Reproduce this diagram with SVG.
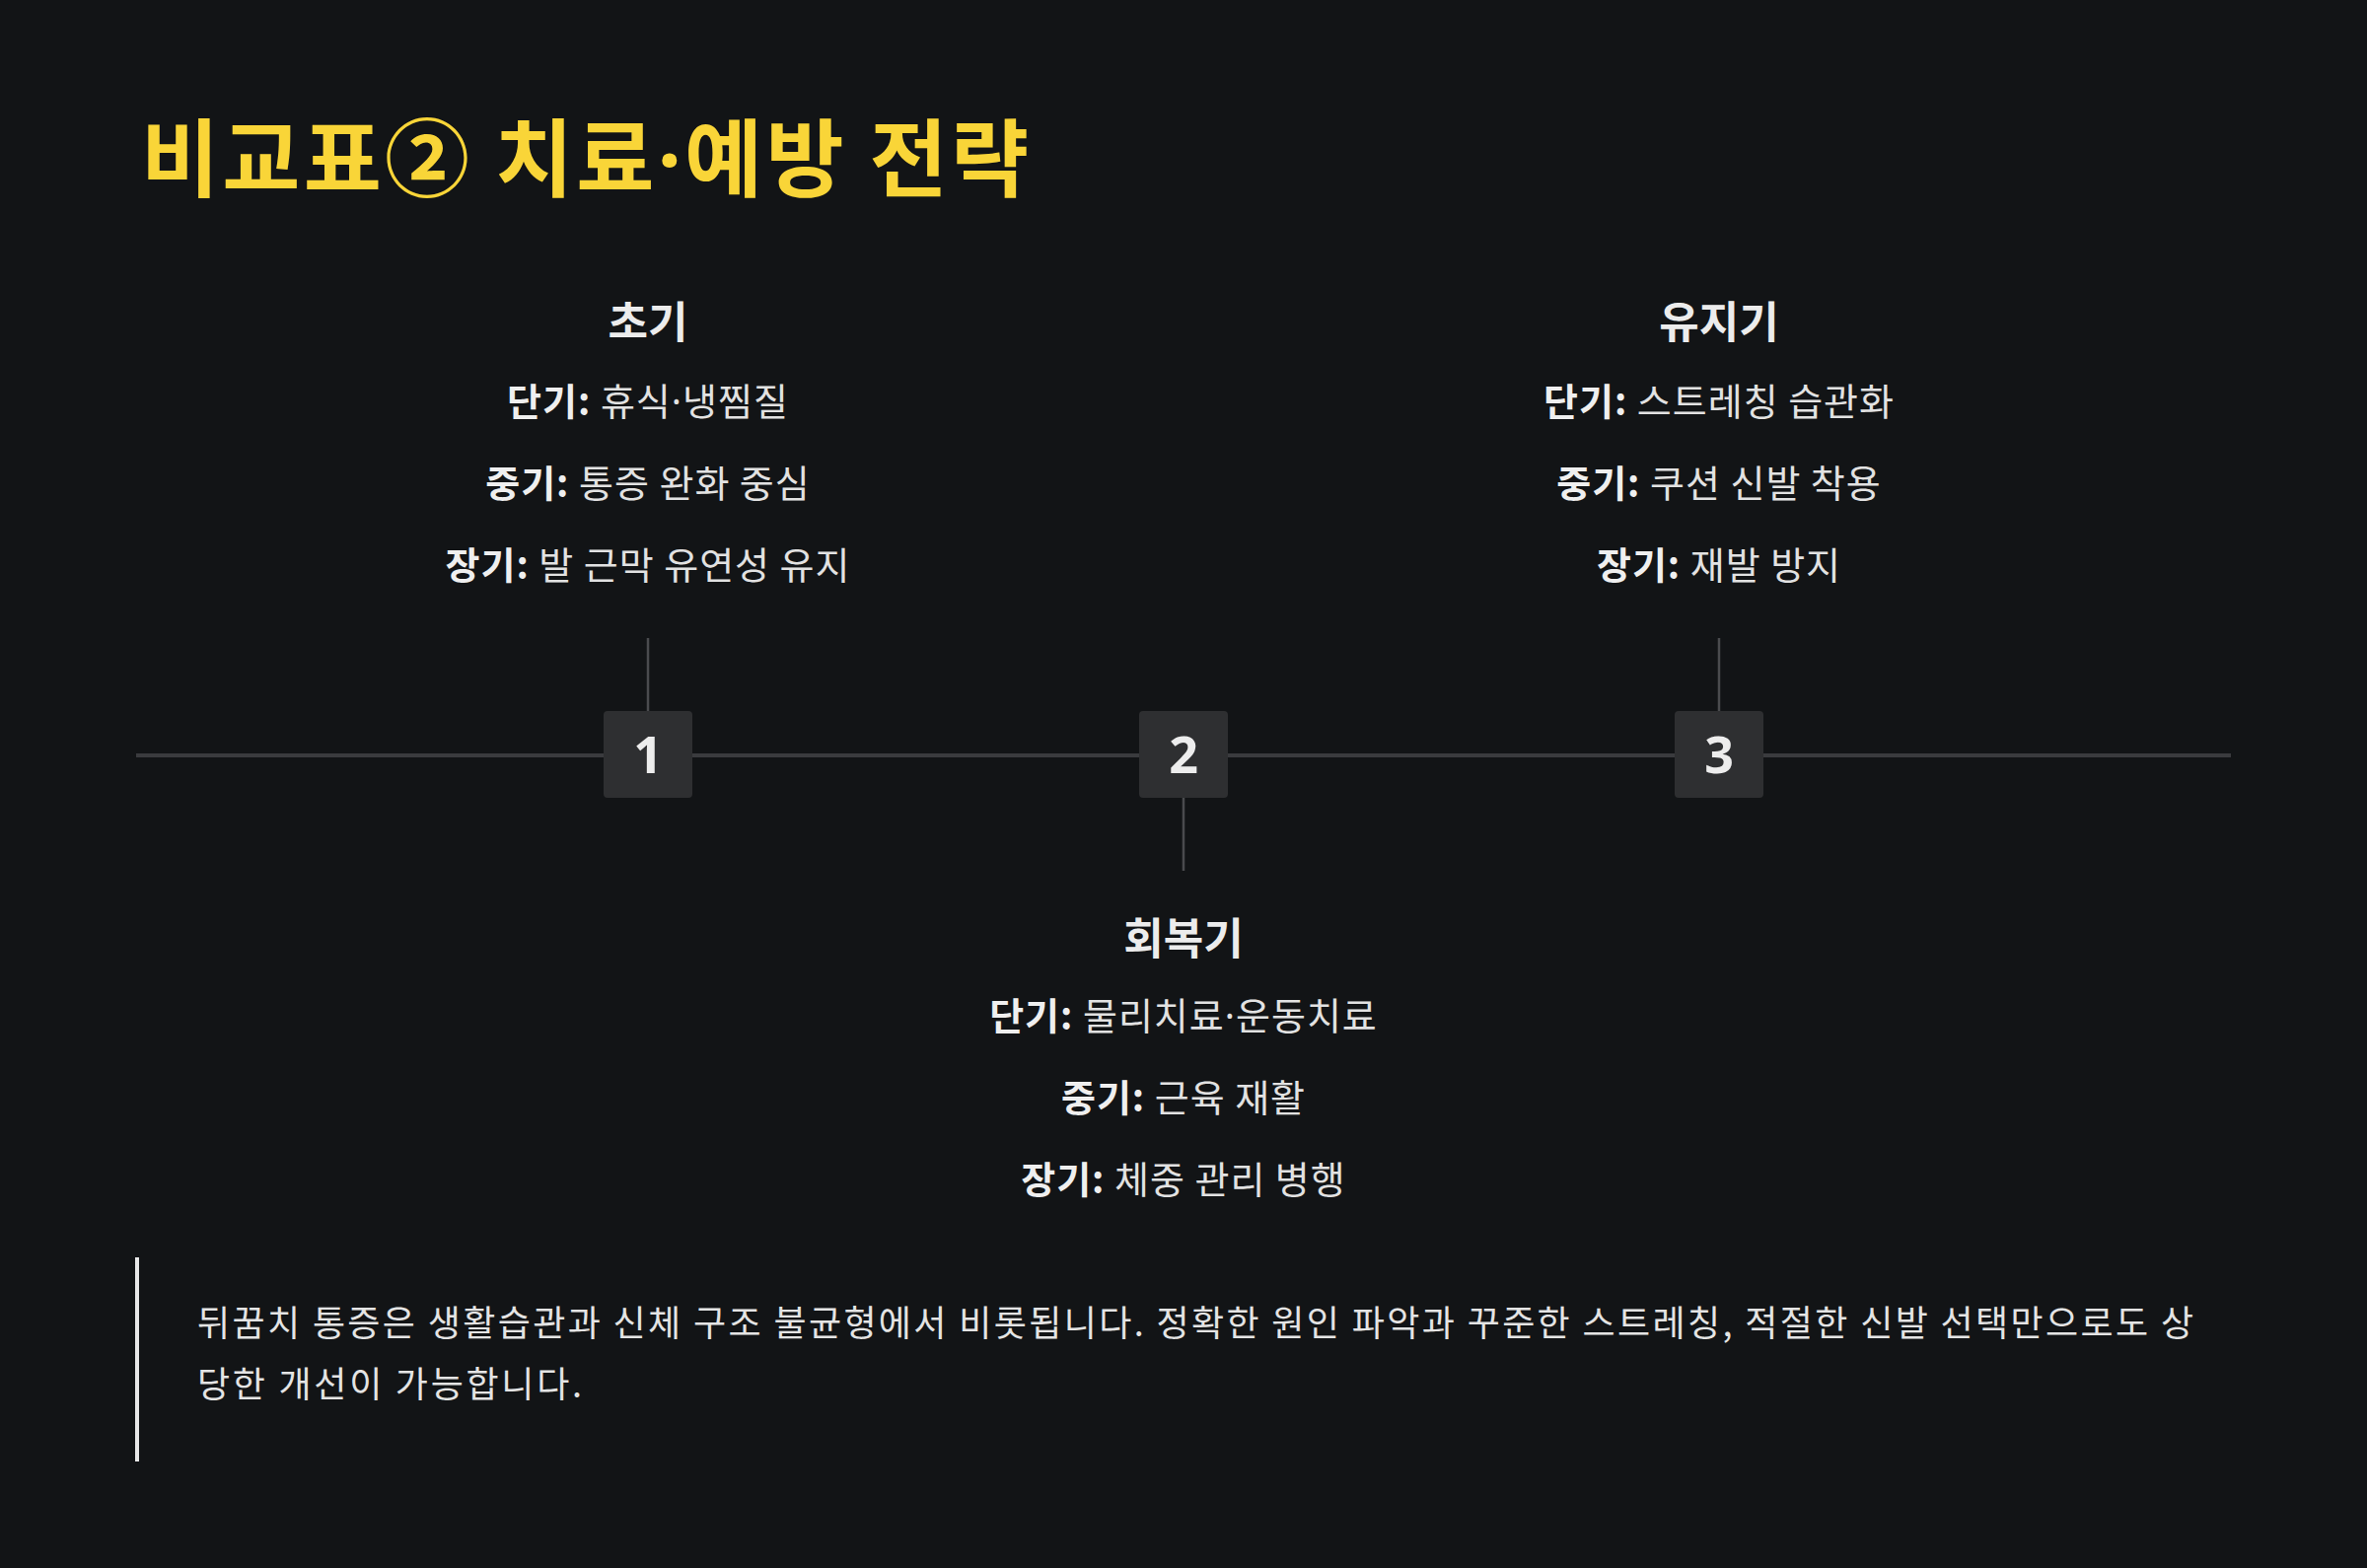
<svg xmlns="http://www.w3.org/2000/svg" width="2400" height="1590" viewBox="0 0 2400 1590">
<style>
.kr{font-family:"Noto Sans CJK KR","Noto Sans",sans-serif}
.dot{font-family:"Noto Sans","DejaVu Sans",sans-serif}
.title{font-size:86px;font-weight:700;fill:#F9D538}
.phase{font-size:44px;font-weight:700;fill:#ECECEC;text-anchor:middle}
.row{font-size:38px;fill:#E2E2E2;text-anchor:middle;letter-spacing:1px}
.row .b{font-weight:700;fill:#EFEFEF}
.num{font-family:"Noto Sans","DejaVu Sans",sans-serif;font-size:52px;font-weight:700;fill:#EDEDED;text-anchor:middle}
.box{fill:#2E2F31}
.stem{stroke:#4A4B4E;stroke-width:2.5}
.para{font-size:36px;fill:#E4E4E4}
</style>
<rect width="2400" height="1590" fill="#121416"/>
<text class="kr title" x="143" y="193" textLength="900" lengthAdjust="spacing">비교표② 치료<tspan class="dot">·</tspan>예방 전략</text>
<g id="connectors">
<line x1="138" y1="766" x2="2262" y2="766" stroke="#3A3B3E" stroke-width="4"/>
<line class="stem" x1="657" y1="647" x2="657" y2="721"/>
<line class="stem" x1="1743" y1="647" x2="1743" y2="721"/>
<line class="stem" x1="1200" y1="808" x2="1200" y2="883"/>
</g>
<g id="node1">
<rect class="box" x="612" y="721" width="90" height="88" rx="4"/>
<text class="num" x="657" y="784">1</text>
<text class="kr phase" x="657" y="343">초기</text>
<text class="kr row" x="657" y="421"><tspan class="b">단기:</tspan> 휴식<tspan class="dot">·</tspan>냉찜질</text>
<text class="kr row" x="657" y="504"><tspan class="b">중기:</tspan> 통증 완화 중심</text>
<text class="kr row" x="657" y="587"><tspan class="b">장기:</tspan> 발 근막 유연성 유지</text>
</g>
<g id="node2">
<rect class="box" x="1155" y="721" width="90" height="88" rx="4"/>
<text class="num" x="1200" y="784">2</text>
<text class="kr phase" x="1200" y="968">회복기</text>
<text class="kr row" x="1200" y="1044"><tspan class="b">단기:</tspan> 물리치료<tspan class="dot">·</tspan>운동치료</text>
<text class="kr row" x="1200" y="1127"><tspan class="b">중기:</tspan> 근육 재활</text>
<text class="kr row" x="1200" y="1210"><tspan class="b">장기:</tspan> 체중 관리 병행</text>
</g>
<g id="node3">
<rect class="box" x="1698" y="721" width="90" height="88" rx="4"/>
<text class="num" x="1743" y="784">3</text>
<text class="kr phase" x="1743" y="343">유지기</text>
<text class="kr row" x="1743" y="421"><tspan class="b">단기:</tspan> 스트레칭 습관화</text>
<text class="kr row" x="1743" y="504"><tspan class="b">중기:</tspan> 쿠션 신발 착용</text>
<text class="kr row" x="1743" y="587"><tspan class="b">장기:</tspan> 재발 방지</text>
</g>
<g id="note">
<rect x="137" y="1275" width="4" height="207" fill="#E8E8E8"/>
<text class="kr para" x="200" y="1355" textLength="2024" lengthAdjust="spacing">뒤꿈치 통증은 생활습관과 신체 구조 불균형에서 비롯됩니다. 정확한 원인 파악과 꾸준한 스트레칭, 적절한 신발 선택만으로도 상</text>
<text class="kr para" x="200" y="1417" textLength="390" lengthAdjust="spacing">당한 개선이 가능합니다.</text>
</g>
</svg>
